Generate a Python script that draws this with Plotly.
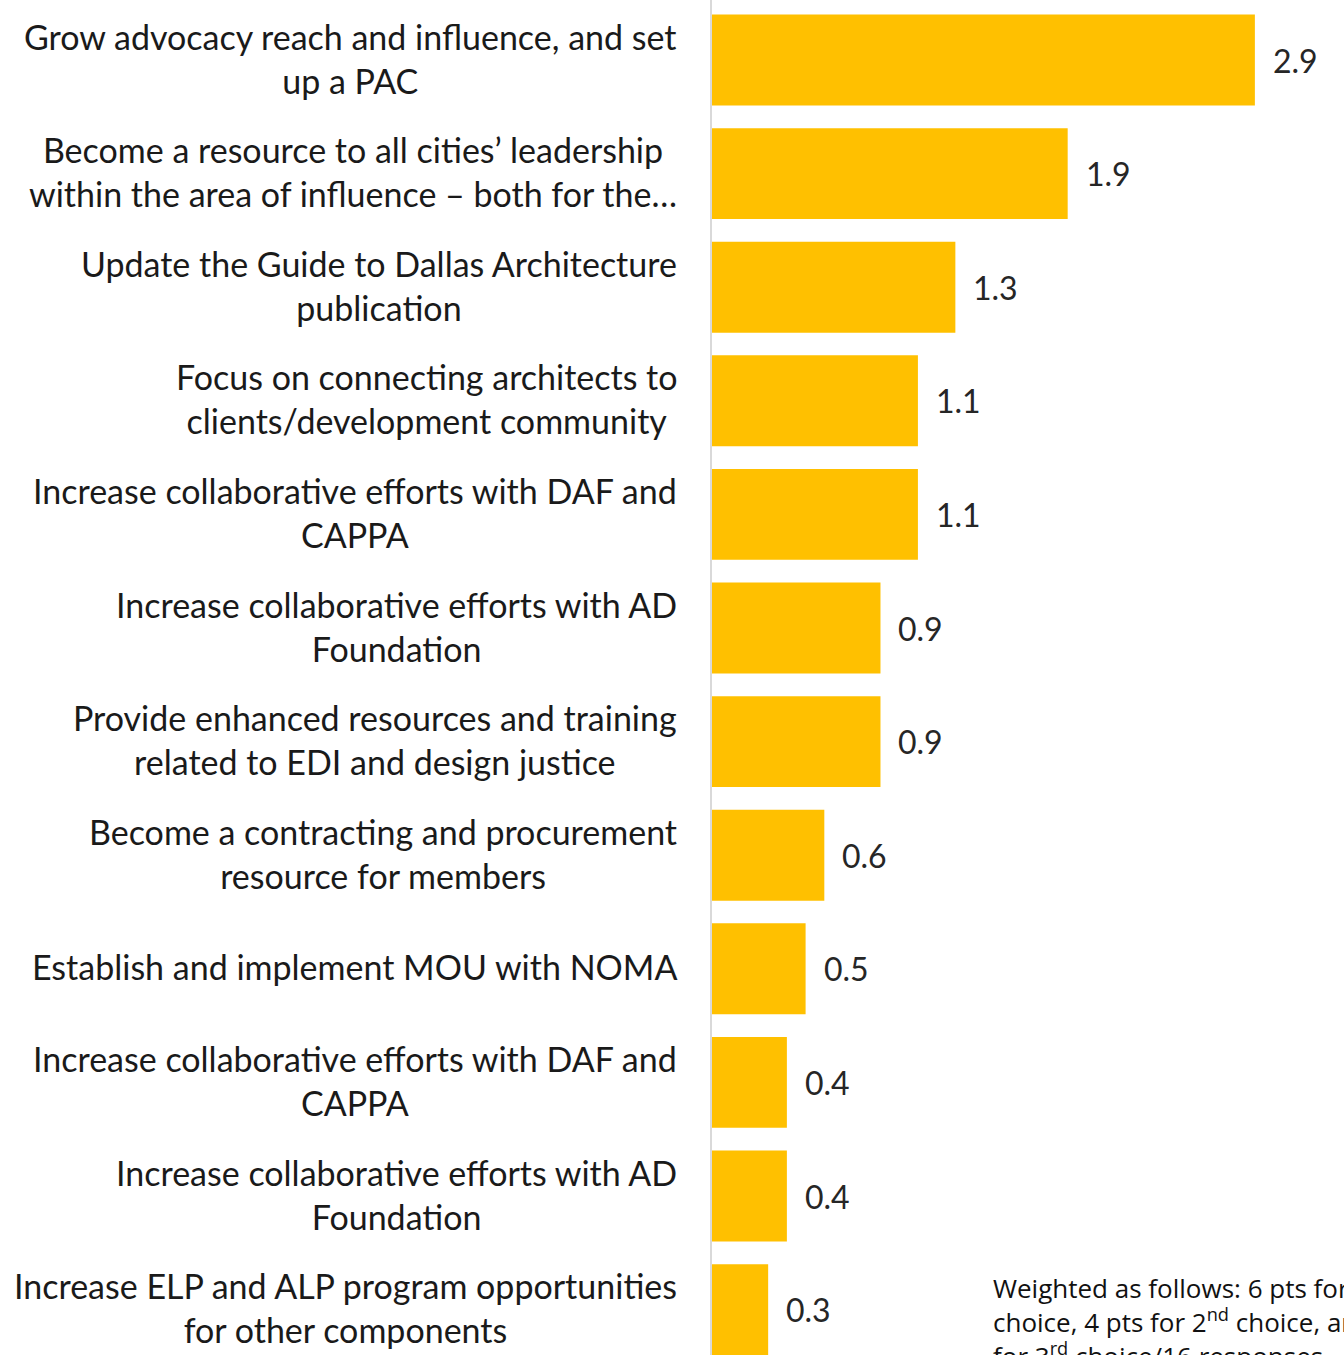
import plotly.graph_objects as go

# Survey priorities, ranked by weighted score (top to bottom)
labels = [
    "Grow advocacy reach and influence, and set<br>up a PAC",
    "Become a resource to all cities’ leadership<br>within the area of influence – both for the…",
    "Update the Guide to Dallas Architecture<br>publication",
    "Focus on connecting architects to<br>clients/development community",
    "Increase collaborative efforts with DAF and<br>CAPPA",
    "Increase collaborative efforts with AD<br>Foundation",
    "Provide enhanced resources and training<br>related to EDI and design justice",
    "Become a contracting and procurement<br>resource for members",
    "Establish and implement MOU with NOMA",
    "Increase collaborative efforts with DAF and<br>CAPPA",
    "Increase collaborative efforts with AD<br>Foundation",
    "Increase ELP and ALP program opportunities<br>for other components",
]
scores = [2.9, 1.9, 1.3, 1.1, 1.1, 0.9, 0.9, 0.6, 0.5, 0.4, 0.4, 0.3]
positions = list(range(len(scores)))

note = ("Weighted as follows: 6 pts for 1<sup>st</sup><br>"
        "choice, 4 pts for 2<sup>nd</sup> choice, and 2 pts<br>"
        "for 3<sup>rd</sup> choice/16 responses")

W, H = 1344, 1355
LEFT = 712
plot_w = W - LEFT
px_per_unit = 187.2
row_px = 113.6
top_center = 60

fig = go.Figure(go.Bar(
    x=scores,
    y=positions,
    orientation="h",
    width=0.8,
    marker=dict(color="#FFC000", line=dict(width=0)),
    hoverinfo="skip",
))

annotations = []
# Category labels, right-aligned block with centred lines
label_x = (679 - LEFT) / plot_w
for p, lab in zip(positions, labels):
    annotations.append(dict(
        x=label_x, xref="paper", y=p, yref="y", yshift=2,
        text=lab, showarrow=False, xanchor="right", yanchor="middle",
        align="center", font=dict(family="Lato", size=34, color="#1a1a1a"),
    ))
# Value labels to the right of each bar
for p, v in zip(positions, scores):
    annotations.append(dict(
        x=v, xref="x", y=p, yref="y",
        text=f"{v:.1f}", showarrow=False, xanchor="left", yanchor="middle",
        xshift=16, font=dict(family="Lato", size=32, color="#262626"),
    ))
# Weighting note
annotations.append(dict(
    x=(991 - LEFT) / plot_w, xref="paper", y=1 - 1266 / H, yref="paper",
    text=note, showarrow=False, xanchor="left", yanchor="top", align="left",
    font=dict(family="Open Sans", size=26, color="#111111"),
))

fig.update_layout(
    width=W, height=H,
    margin=dict(l=LEFT, r=0, t=0, b=0),
    paper_bgcolor="white", plot_bgcolor="white",
    showlegend=False,
    annotations=annotations,
    xaxis=dict(range=[0, plot_w / px_per_unit], visible=False, fixedrange=True),
    yaxis=dict(
        range=[len(scores) - 1 + (H - top_center - (len(scores) - 1) * row_px) / row_px,
               -top_center / row_px],
        showticklabels=False, showgrid=False, zeroline=False,
        showline=True, linecolor="#d9d9d9", linewidth=2, ticks="",
        fixedrange=True,
    ),
)

fig.write_html("out.html")
